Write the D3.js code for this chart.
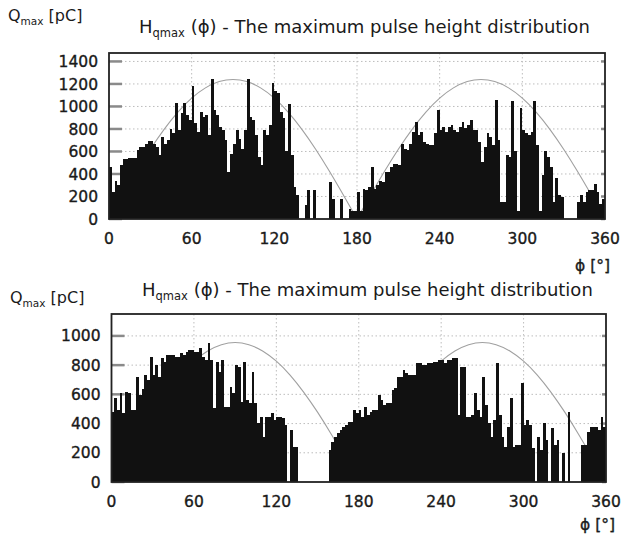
<!DOCTYPE html>
<html>
<head>
<meta charset="utf-8">
<script src="https://d3js.org/d3.v7.min.js"></script>
<style>
  body { margin: 0; background: #fff; }
  text { font-family: "DejaVu Sans", Verdana, sans-serif; fill: #1a1a1a; }
  .heavy { stroke: #1a1a1a; stroke-width: 0.35px; }
</style>
</head>
<body>
<svg id="chart" width="622" height="540"></svg>
<script>
// phase bins are 2 degrees wide, value = bin start
var binWidth = 2;
var xTicks = [0, 60, 120, 180, 240, 300, 360];
var yTicksTop = [0, 200, 400, 600, 800, 1000, 1200, 1400];
var yTicksBottom = [0, 200, 400, 600, 800, 1000];

// maximum pulse height per phase bin [pC], upper plot
var qmaxTop = [
  460, 240, 340, 300, 480, 530, 530, 545, 545, 545,
  610, 640, 640, 670, 690, 690, 670, 640, 570, 730,
  670, 700, 800, 760, 1030, 790, 940, 1030, 925, 880,
  1180, 850, 775, 955, 910, 925, 745, 1240, 970, 925,
  820, 790, 700, 420, 580, 670, 790, 715, 625, 790,
  1240, 910, 880, 745, 550, 480, 790, 745, 835, 1210,
  1135, 1120, 955, 895, 600, 1020, 570, 285, 210, 0,
  0, 120, 255, 0, 255, 0, 0, 0, 0, 0,
  330, 180, 0, 0, 180, 0, 0, 90, 75, 75,
  240, 75, 270, 255, 285, 460, 270, 300, 340, 330,
  420, 420, 460, 490, 490, 480, 670, 625, 610, 670,
  775, 865, 745, 775, 685, 670, 660, 660, 760, 970,
  790, 820, 775, 820, 835, 790, 775, 820, 865, 805,
  835, 880, 790, 790, 685, 505, 640, 760, 730, 655,
  1060, 700, 150, 150, 570, 550, 1045, 600, 75, 985,
  790, 760, 745, 775, 1045, 655, 75, 390, 600, 550,
  460, 150, 360, 210, 195, 0, 0, 0, 0, 0,
  150, 210, 150, 240, 255, 255, 315, 240, 135, 180
];

// maximum pulse height per phase bin [pC], lower plot
var qmaxBottom = [
  480, 573, 493, 607, 470, 619, 607, 493, 493, 721,
  596, 640, 733, 700, 858, 733, 800, 721, 847, 824,
  870, 870, 870, 858, 858, 880, 870, 893, 904, 904,
  893, 893, 915, 858, 835, 950, 835, 505, 824, 756,
  835, 516, 516, 653, 607, 800, 790, 550, 824, 562,
  540, 755, 540, 402, 447, 310, 447, 447, 470, 425,
  447, 447, 436, 390, 0, 356, 242, 242, 0, 0,
  0, 0, 0, 0, 0, 0, 0, 0, 0, 219,
  276, 310, 333, 356, 379, 390, 413, 413, 493, 470,
  493, 447, 516, 459, 482, 493, 493, 596, 562, 527,
  539, 539, 630, 641, 721, 721, 767, 744, 733, 733,
  733, 813, 813, 801, 801, 813, 813, 824, 824, 836,
  836, 813, 836, 836, 847, 847, 459, 790, 790, 447,
  447, 459, 607, 493, 447, 721, 527, 402, 310, 425,
  813, 459, 310, 242, 379, 573, 242, 253, 253, 676,
  390, 425, 390, 230, 0, 310, 219, 402, 288, 0,
  367, 253, 288, 0, 196, 0, 482, 0, 0, 0,
  0, 253, 253, 345, 379, 379, 379, 356, 447, 379
];

// reference voltage curve read every 10 degrees
var curvePhase = d3.range(0, 361, 10);
var curveTop = [
  0, 215, 424, 620, 797, 950, 1074, 1165, 1221, 1240,
  1221, 1165, 1074, 950, 797, 620, 424, 215, 0,
  215, 424, 620, 797, 950, 1074, 1165, 1221, 1240,
  1221, 1165, 1074, 950, 797, 620, 424, 215, 0
];
var curveBottom = [
  0, 166, 327, 478, 614, 732, 827, 897, 940, 955,
  940, 897, 827, 732, 614, 478, 327, 166, 0,
  166, 327, 478, 614, 732, 827, 897, 940, 955,
  940, 897, 827, 732, 614, 478, 327, 166, 0
];

var svg = d3.select("#chart");

var panels = [
  { data: qmaxTop, curve: curveTop, yTicks: yTicksTop, yMax: 1475,
    left: 109, right: 605, top: 53, bottom: 219,
    qx: 8, qy: 21, tx: 139, ty: 33, px: 575, py: 271 },
  { data: qmaxBottom, curve: curveBottom, yTicks: yTicksBottom, yMax: 1150,
    left: 111.5, right: 606, top: 314, bottom: 482,
    qx: 10, qy: 303, tx: 142, ty: 296, px: 580, py: 530 }
];

panels.forEach(function(p) {
  var x = d3.scaleLinear().domain([0, 360]).range([p.left, p.right]);
  var y = d3.scaleLinear().domain([0, p.yMax]).range([p.bottom, p.top]);
  var g = svg.append("g");

  // dotted grid
  g.selectAll(".hgrid").data(p.yTicks.slice(1)).enter().append("line")
    .attr("x1", p.left).attr("x2", p.right)
    .attr("y1", function(d){ return y(d); }).attr("y2", function(d){ return y(d); })
    .attr("stroke", "#bdbdbd").attr("stroke-width", 1).attr("stroke-dasharray", "1.5,2.5");
  g.selectAll(".vgrid").data(xTicks.slice(1, -1)).enter().append("line")
    .attr("y1", p.top).attr("y2", p.bottom)
    .attr("x1", function(d){ return x(d); }).attr("x2", function(d){ return x(d); })
    .attr("stroke", "#bdbdbd").attr("stroke-width", 1).attr("stroke-dasharray", "1.5,2.5");

  // inner tick marks
  g.selectAll(".ltick").data(p.yTicks).enter().append("line")
    .attr("x1", p.left).attr("x2", p.left + 13)
    .attr("y1", function(d){ return y(d); }).attr("y2", function(d){ return y(d); })
    .attr("stroke", "#8a8a8a").attr("stroke-width", 2.5);
  g.selectAll(".rtick").data(p.yTicks).enter().append("line")
    .attr("x1", p.right - 4).attr("x2", p.right)
    .attr("y1", function(d){ return y(d); }).attr("y2", function(d){ return y(d); })
    .attr("stroke", "#8a8a8a").attr("stroke-width", 2.5);

  // reference sine, two half waves
  var line = d3.line()
    .x(function(d){ return x(d[0]); })
    .y(function(d){ return y(d[1]); })
    .curve(d3.curveNatural);
  var pts = curvePhase.map(function(ph, i){ return [ph, p.curve[i]]; });
  [pts.slice(0, 19), pts.slice(18)].forEach(function(half) {
    g.append("path").attr("d", line(half))
      .attr("fill", "none").attr("stroke", "#a0a0a0").attr("stroke-width", 1.1);
  });

  // histogram bars
  g.selectAll(".bar").data(p.data).enter().append("rect")
    .attr("x", function(d, i){ return x(i * binWidth); })
    .attr("width", function(d, i){ return x((i + 1) * binWidth) - x(i * binWidth); })
    .attr("y", function(d){ return y(d); })
    .attr("height", function(d){ return y(0) - y(d); })
    .attr("fill", "#111")
    .attr("shape-rendering", "crispEdges");

  // frame
  g.append("rect")
    .attr("x", p.left).attr("y", p.top)
    .attr("width", p.right - p.left).attr("height", p.bottom - p.top)
    .attr("fill", "none").attr("stroke", "#222").attr("stroke-width", 1.8);

  // tick labels
  g.selectAll(".ylab").data(p.yTicks).enter().append("text")
    .attr("class", "heavy")
    .attr("x", p.left - 11).attr("y", function(d){ return y(d); })
    .attr("dy", "0.36em").attr("text-anchor", "end")
    .style("font-size", "15.5px")
    .text(function(d){ return d; });
  g.selectAll(".xlab").data(xTicks).enter().append("text")
    .attr("class", "heavy")
    .attr("x", function(d){ return x(d); }).attr("y", p.bottom + 25)
    .attr("text-anchor", "middle")
    .style("font-size", "15.5px")
    .text(function(d){ return d; });

  // axis titles
  var q = g.append("text").attr("x", p.qx).attr("y", p.qy).style("font-size", "16px");
  q.append("tspan").text("Q");
  q.append("tspan").attr("dy", 4).style("font-size", "10.5px").text("max");
  q.append("tspan").attr("dy", -4).text(" [pC]");

  var t = g.append("text").attr("x", p.tx).attr("y", p.ty).style("font-size", "18px");
  t.append("tspan").text("H");
  t.append("tspan").attr("dy", 4).style("font-size", "11.5px").text("qmax");
  t.append("tspan").attr("dy", -4).text(" (\u03D5) - The maximum pulse height distribution");

  g.append("text").attr("x", p.px).attr("y", p.py).style("font-size", "15.5px")
    .attr("class", "heavy")
    .text("\u03D5 [\u00B0]");
});
</script>
</body>
</html>
